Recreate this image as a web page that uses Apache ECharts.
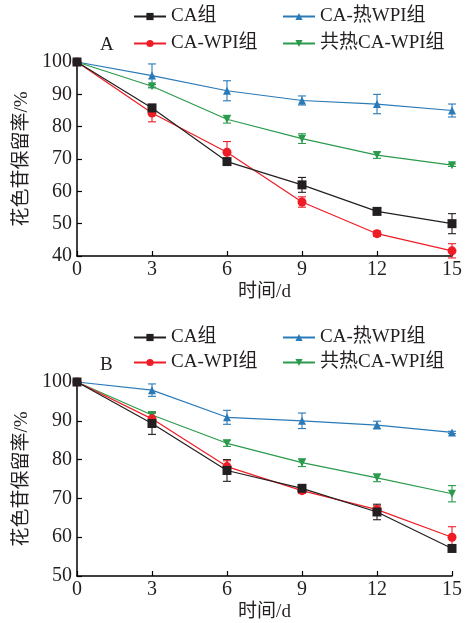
<!DOCTYPE html>
<html>
<head>
<meta charset="utf-8">
<script src="https://cdn.jsdelivr.net/npm/echarts@6/dist/echarts.min.js"></script>
<style>
  html, body { margin: 0; padding: 0; background: #fff; }
  #main { width: 465px; height: 623px; }
</style>
</head>
<body>
<div id="main"></div>
<script>
// 贮藏天数
const days = [0, 3, 6, 9, 12, 15];
const names = ['CA组', 'CA-WPI组', 'CA-热WPI组', '共热CA-WPI组'];

// 图A
const caA = [100, 85.8, 69.2, 62.0, 53.8, 50.0];
const caAErr = [0, 1.0, 1.0, 2.3, 1.0, 3.1];
const wpiA = [100, 84.2, 72.1, 56.7, 46.9, 41.6];
const wpiAErr = [0, 2.7, 3.3, 1.6, 0.8, 2.2];
const hotA = [100, 95.8, 91.1, 88.1, 87.0, 85.0];
const hotAErr = [0, 3.6, 3.1, 1.4, 3.0, 2.0];
const coA = [100, 92.5, 82.3, 76.3, 71.2, 68.1];
const coAErr = [0, 0.5, 1.2, 1.5, 1.0, 0.4];

// 图B
const caB = [100, 89.3, 77.2, 72.6, 66.5, 57.1];
const caBErr = [0, 2.8, 2.8, 0.8, 2.0, 0.5];
const wpiB = [100, 90.5, 78.2, 72.0, 67.1, 60.0];
const wpiBErr = [0, 1.5, 1.5, 0.7, 1.0, 2.7];
const hotB = [100, 97.9, 90.9, 90.0, 88.9, 87.0];
const hotBErr = [0, 1.6, 1.8, 2.0, 1.0, 0.3];
const coB = [100, 91.5, 84.2, 79.2, 75.3, 71.2];
const coBErr = [0, 0.8, 0.8, 1.0, 1.0, 2.1];

const colors = ['#231f20', '#ee1d25', '#2a7ab8', '#2b9a4c'];
const symbols = ['rect', 'circle', 'triangle', 'path://M0,0 L10,0 L5,10 Z'];
const sizes = [9, 9, 8, 8];
const font = "'Liberation Serif', 'Noto Sans CJK SC', serif";

function lineSeries(i, vals, gi) {
    return {
        name: names[i],
        type: 'line',
        xAxisIndex: gi,
        yAxisIndex: gi,
        data: days.map((d, k) => [d, vals[k]]),
        symbol: symbols[i],
        symbolSize: sizes[i],
        showAllSymbol: true,
        lineStyle: { color: colors[i], width: 1.2 },
        itemStyle: { color: colors[i] },
        z: 3 + (i === 0 ? 1 : 0)
    };
}

function errSeries(i, vals, errs, gi) {
    return {
        type: 'custom',
        xAxisIndex: gi,
        yAxisIndex: gi,
        data: days.map((d, k) => [d, vals[k] - errs[k], vals[k] + errs[k]]),
        encode: { x: 0, y: [1, 2] },
        z: 2,
        silent: true,
        renderItem: function (params, api) {
            const lo = api.coord([api.value(0), api.value(1)]);
            const hi = api.coord([api.value(0), api.value(2)]);
            const w = 4;
            const st = { stroke: colors[i], lineWidth: 1.1 };
            return {
                type: 'group',
                children: [
                    { type: 'line', shape: { x1: lo[0], y1: lo[1], x2: hi[0], y2: hi[1] }, style: st },
                    { type: 'line', shape: { x1: lo[0] - w, y1: lo[1], x2: lo[0] + w, y2: lo[1] }, style: st },
                    { type: 'line', shape: { x1: hi[0] - w, y1: hi[1], x2: hi[0] + w, y2: hi[1] }, style: st }
                ]
            };
        }
    };
}

function xAx(gi) {
    return {
        type: 'value', gridIndex: gi, min: 0, max: 15, interval: 3,
        name: '时间/d', nameLocation: 'middle', nameGap: 27,
        nameTextStyle: { color: '#231f20', fontSize: 19, fontFamily: font },
        axisLine: { lineStyle: { color: '#000', width: 1.5 } },
        axisTick: { inside: true, length: 5, lineStyle: { color: '#000', width: 1.2 } },
        axisLabel: { color: '#231f20', fontSize: 20, fontFamily: font, margin: 4 },
        splitLine: { show: false }
    };
}

function yAx(gi, min) {
    return {
        type: 'value', gridIndex: gi, min: min, max: 100, interval: 10,
        name: '花色苷保留率/%', nameLocation: 'middle', nameGap: 45,
        nameTextStyle: { color: '#231f20', fontSize: 19, fontFamily: font },
        axisLine: { show: true, lineStyle: { color: '#000', width: 1.5 } },
        axisTick: { show: true, inside: true, length: 5, lineStyle: { color: '#000', width: 1.2 } },
        axisLabel: { color: '#231f20', fontSize: 20, fontFamily: font, margin: 5 },
        splitLine: { show: false }
    };
}

function legends(top1, top2) {
    const pos = [[133, top1], [133, top2], [282, top1], [282, top2]];
    return names.map((n, i) => ({
        data: [n],
        left: pos[i][0], top: pos[i][1],
        padding: 0,
        itemWidth: 32, itemHeight: 9,
        textStyle: { color: '#231f20', fontSize: 19, fontFamily: font }
    }));
}

const series = [];
[[caA, caAErr], [wpiA, wpiAErr], [hotA, hotAErr], [coA, coAErr]].forEach((p, i) => {
    series.push(errSeries(i, p[0], p[1], 0));
});
[[caB, caBErr], [wpiB, wpiBErr], [hotB, hotBErr], [coB, coBErr]].forEach((p, i) => {
    series.push(errSeries(i, p[0], p[1], 1));
});
// 先画蓝、绿、红，最后黑
[2, 3, 1, 0].forEach(i => series.push(lineSeries(i, [caA, wpiA, hotA, coA][i], 0)));
[2, 3, 1, 0].forEach(i => series.push(lineSeries(i, [caB, wpiB, hotB, coB][i], 1)));

const chart = echarts.init(document.getElementById('main'));
chart.setOption({
    animation: false,
    backgroundColor: '#fff',
    grid: [
        { left: 77, right: 12, top: 62, height: 194 },
        { left: 77, right: 12, top: 382, height: 194 }
    ],
    xAxis: [xAx(0), xAx(1)],
    yAxis: [yAx(0, 40), yAx(1, 50)],
    legend: legends(7, 34).concat(legends(328, 353)),
    graphic: [
        { type: 'text', left: 100, top: 36, style: { text: 'A', fontSize: 19, fontFamily: font, fill: '#231f20' } },
        { type: 'text', left: 100, top: 356, style: { text: 'B', fontSize: 19, fontFamily: font, fill: '#231f20' } }
    ],
    series: series
});
</script>
</body>
</html>
